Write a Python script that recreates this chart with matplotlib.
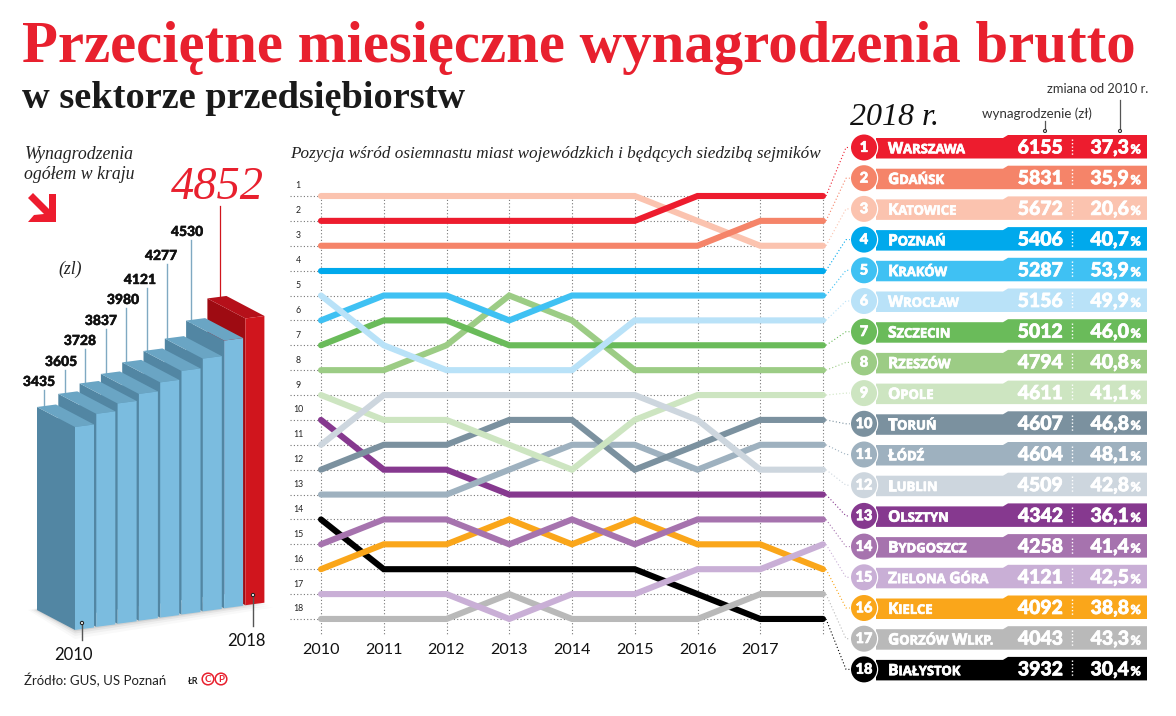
import numpy as np
import matplotlib
matplotlib.use('Agg')
import matplotlib.pyplot as plt
import matplotlib.patheffects as pe
from matplotlib.patches import Polygon, Circle

# dane
lata = [2010, 2011, 2012, 2013, 2014, 2015, 2016, 2017, 2018]
srednia_kraj = [3435, 3605, 3728, 3837, 3980, 4121, 4277, 4530, 4852]

miasta = ['Warszawa', 'Gdańsk', 'Katowice', 'Poznań', 'Kraków', 'Wrocław', 'Szczecin', 'Rzeszów', 'Opole',
          'Toruń', 'Łódź', 'Lublin', 'Olsztyn', 'Bydgoszcz', 'Zielona Góra', 'Kielce', 'Gorzów Wlkp.', 'Białystok']
wynagrodzenie = [6155, 5831, 5672, 5406, 5287, 5156, 5012, 4794, 4611,
                 4607, 4604, 4509, 4342, 4258, 4121, 4092, 4043, 3932]
zmiana = ['37,3', '35,9', '20,6', '40,7', '53,9', '49,9', '46,0', '40,8', '41,1',
          '46,8', '48,1', '42,8', '36,1', '41,4', '42,5', '38,8', '43,3', '30,4']
kolory = ['#ed1c2e', '#f58469', '#fbc3af', '#00a9ec', '#3fc1f3', '#b9e2f8', '#6abb5a', '#9ccc85', '#cde5c1',
          '#7b919f', '#9eb1bf', '#cdd6de', '#86398f', '#a673ae', '#c9afd6', '#faa61a', '#b9b9b9', '#000000']

# pozycja miasta w kolejnych latach
pozycje = {
    'Warszawa': [2, 2, 2, 2, 2, 2, 1, 1, 1],
    'Gdańsk': [3, 3, 3, 3, 3, 3, 3, 2, 2],
    'Katowice': [1, 1, 1, 1, 1, 1, 2, 3, 3],
    'Poznań': [4, 4, 4, 4, 4, 4, 4, 4, 4],
    'Kraków': [6, 5, 5, 6, 5, 5, 5, 5, 5],
    'Wrocław': [5, 7, 8, 8, 8, 6, 6, 6, 6],
    'Szczecin': [7, 6, 6, 7, 7, 7, 7, 7, 7],
    'Rzeszów': [8, 8, 7, 5, 6, 8, 8, 8, 8],
    'Opole': [9, 10, 10, 11, 12, 10, 9, 9, 9],
    'Toruń': [12, 11, 11, 10, 10, 12, 11, 10, 10],
    'Łódź': [13, 13, 13, 12, 11, 11, 12, 11, 11],
    'Lublin': [11, 9, 9, 9, 9, 9, 10, 12, 12],
    'Olsztyn': [10, 12, 12, 13, 13, 13, 13, 13, 13],
    'Bydgoszcz': [15, 14, 14, 15, 14, 15, 14, 14, 14],
    'Zielona Góra': [17, 17, 17, 18, 17, 17, 16, 16, 15],
    'Kielce': [16, 15, 15, 14, 15, 14, 15, 15, 16],
    'Gorzów Wlkp.': [18, 18, 18, 17, 18, 18, 18, 17, 17],
    'Białystok': [14, 16, 16, 16, 16, 16, 17, 18, 18],
}

SZER, WYS = 1176, 716
SERIF = 'Liberation Serif'
SANS = 'Lato'

fig = plt.figure(figsize=(SZER / 100, WYS / 100), dpi=100, facecolor='white')
# os w pikselach obrazka, na niej cala oprawa
ax = fig.add_axes([0, 0, 1, 1])
ax.set_xlim(0, SZER)
ax.set_ylim(WYS, 0)
ax.axis('off')
renderer = fig.canvas.get_renderer()

# tytul
ax.text(22, 62, 'Przeciętne miesięczne wynagrodzenia brutto', family=SERIF, weight='bold',
        fontsize=42.3, color='#e8202e', ha='left', va='baseline')
ax.text(22, 108, 'w sektorze przedsiębiorstw', family=SERIF, weight='bold', fontsize=27.6,
        color='#1a1a1a', ha='left', va='baseline')

# lewy panel - slupki 3d
ax.text(25, 159, 'Wynagrodzenia', family=SERIF, style='italic', fontsize=12.8, color='#222222')
ax.text(24, 179, 'ogółem w kraju', family=SERIF, style='italic', fontsize=12.8, color='#222222')
ax.text(58, 274, '(zl)', family=SERIF, style='italic', fontsize=12.8, color='#222222')
ax.add_patch(Polygon([(28, 198), (33, 193), (49, 209), (49, 194), (56, 194), (56, 222), (28, 222), (34, 215), (44, 214)],
                     facecolor='#ed1c2e', edgecolor='none'))

PX_NA_ZL = 0.0591
krok = 21.3
szer_slupka = 19
glebia_x, glebia_y = 38, 20
x_start = 75
y_podloga = 630
spadek = 3.1

# miejsca opisow nad slupkami 2010-2017
opis_x = [39, 61, 80, 101, 123, 140, 161, 187]
opis_y = [382, 362, 341, 321, 300, 280, 256, 232]
linia_x = [44, 65, 85, 106, 126, 147, 167, 191]

# cien pod slupkami
xl = x_start - glebia_x
xp = x_start + 8 * krok + szer_slupka
for d, a in zip([9, 6, 3.5, 1.5], [0.025, 0.035, 0.05, 0.07]):
    ax.add_patch(Polygon([(xl - d, y_podloga - glebia_y), (x_start, y_podloga + d),
                          (xp + d, y_podloga - 8 * spadek - 3 + d * 0.6), (x_start, y_podloga - 30)],
                         facecolor='black', edgecolor='none', alpha=a, zorder=1))

# od najdalszego do najblizszego
for i in range(len(lata) - 1, -1, -1):
    czerwony = lata[i] == 2018
    front = '#d0151d' if czerwony else '#7bbcdf'
    bok = '#9e0b12' if czerwony else '#5286a3'
    gora_k = '#b5101a' if czerwony else '#6aa5c4'
    x = x_start + i * krok
    dol = y_podloga - i * spadek
    gora = dol - srednia_kraj[i] * PX_NA_ZL
    ax.add_patch(Polygon([(x - glebia_x, gora - glebia_y), (x, gora), (x, dol), (x - glebia_x, dol - glebia_y)],
                         facecolor=bok, edgecolor='none', zorder=2))
    ax.add_patch(Polygon([(x, gora), (x + szer_slupka, gora - 2.5), (x + szer_slupka - glebia_x, gora - 2.5 - glebia_y),
                          (x - glebia_x, gora - glebia_y)], facecolor=gora_k, edgecolor='none', zorder=2))
    ax.add_patch(Polygon([(x, gora), (x + szer_slupka, gora - 2.5), (x + szer_slupka, dol - 2.5), (x, dol)],
                         facecolor=front, edgecolor='none', zorder=2))
    # opis nad slupkiem
    if czerwony:
        ax.plot([x - 25, x - 25], [gora - glebia_y - 1, 206], color='#d0151d', lw=0.9, zorder=1.5)
        ax.text(x - 28, 199, '4852', family=SERIF, style='italic', fontsize=33.5, color='#e8202e', ha='center', va='baseline')
    else:
        ax.plot([linia_x[i], linia_x[i]], [gora - glebia_y + 2, opis_y[i] + 8], color='#7fa9c2', lw=1, zorder=1.5)
        ax.text(opis_x[i], opis_y[i], str(srednia_kraj[i]), family=SANS, weight='black', fontsize=10, color='#111111',
                ha='center', va='center', path_effects=[pe.withStroke(linewidth=0.3, foreground='#111111')])

# znaczniki lat przy slupkach
ax.plot([82, 82], [623, 640], color='#555555', lw=1, zorder=3)
ax.add_patch(Circle((82, 623), 1.6, facecolor='white', edgecolor='#222222', lw=0.8, zorder=4))
ax.plot([253, 253], [595, 626], color='#555555', lw=1, zorder=3)
ax.add_patch(Circle((253, 595), 1.6, facecolor='white', edgecolor='#222222', lw=0.8, zorder=4))
ax.text(73, 655, '2010', family=SANS, fontsize=12, color='#111111', ha='center', va='center')
ax.text(246, 641, '2018', family=SANS, fontsize=12, color='#111111', ha='center', va='center')

# zrodlo
ax.text(24, 680, 'Źródło: GUS, US Poznań', family=SANS, fontsize=9.5, color='#222222', ha='left', va='center')
ax.text(188, 681, 'ŁR', family=SANS, weight='bold', fontsize=6.5, color='#222222', ha='left', va='center')
for xz, lit in zip([208, 221], ['C', 'P']):
    ax.add_patch(Circle((xz, 679), 5.8, facecolor='white', edgecolor='#e8202e', lw=1.1))
    ax.text(xz, 679, lit, family=SANS, weight='bold', fontsize=7, color='#e8202e', ha='center', va='center')

# srodkowy panel - pozycje
ax.text(290, 158, 'Pozycja wśród osiemnastu miast wojewódzkich i będących siedzibą sejmików', family=SERIF,
        style='italic', fontsize=12.3, color='#222222', ha='left', va='baseline')

X0, XKROK = 321, 62.75
Y0, YKROK = 196, 24.88
L, P, G, D = 290, 830, 172, 642
ax2 = fig.add_axes([L / SZER, 1 - D / WYS, (P - L) / SZER, (D - G) / WYS])
ax2.set_xlim(2010 + (L - X0) / XKROK, 2010 + (P - X0) / XKROK)
ax2.set_ylim(1 + (D - Y0) / YKROK, 1 + (G - Y0) / YKROK)
ax2.axis('off')
ax2.patch.set_alpha(0)

dots = (0, (1, 2))
for r in range(1, 19):
    ax2.plot([ax2.get_xlim()[0], lata[-1]], [r, r], color='#777777', lw=0.8, ls=dots, zorder=1)
    ax2.text(2010 - 23 / XKROK, r - 10 / YKROK, str(r), family=SANS, fontsize=6.3, color='#222222', ha='center', va='center')
for rok in lata:
    ax2.plot([rok, rok], [1, 18.65], color='#777777', lw=0.8, ls=dots, zorder=1)
for rok in lata[:-1]:
    ax2.text(rok, 18 + 31 / YKROK, str(rok), family=SANS, fontsize=11.6, color='#111111', ha='center', va='center')

# kolejnosc rysowania jak w oryginale, czarna pod spodem
kolejnosc = [17, 12, 15, 13, 16, 14, 10, 9, 8, 11, 7, 6, 4, 5, 3, 2, 0, 1]
for k in kolejnosc:
    ax2.plot(lata, pozycje[miasta[k]], color=kolory[k], lw=4.4, solid_capstyle='round', solid_joinstyle='miter', zorder=3)

# prawy panel - tabela
ax.text(850, 125, '2018 r.', family=SERIF, style='italic', fontsize=23, color='#111111', ha='left', va='baseline')
ax.text(982, 114, 'wynagrodzenie (zł)', family=SANS, fontsize=9.6, color='#333333', ha='left', va='center')
ax.text(1047, 89, 'zmiana od 2010 r.', family=SANS, fontsize=9.3, color='#333333', ha='left', va='center')
ax.plot([1045, 1045], [121, 130], color='#555555', lw=0.9)
ax.plot([1120, 1120], [100, 130], color='#555555', lw=0.9)
for xk in [1045, 1120]:
    ax.add_patch(Circle((xk, 131), 1.5, facecolor='white', edgecolor='#333333', lw=0.8, zorder=5))

WIERSZ0, WIERSZ = 147.5, 30.7
PAS_L, PAS_P = 876, 1147
gruby = [pe.withStroke(linewidth=0.5, foreground='white')]


def kapitaliki(x, y, nazwa):
    # pierwsza litera wieksza, reszta jak kapitaliki
    for slowo in nazwa.split():
        for tekst, rozm in [(slowo[0], 11.3), (slowo[1:].upper(), 9.4)]:
            t = ax.text(x, y, tekst, family='Open Sans', weight='bold', fontsize=rozm, color='white',
                        ha='left', va='baseline', zorder=6, path_effects=gruby)
            x += t.get_window_extent(renderer).width - 0.2
        x += 4


for i in range(len(miasta)):
    kol = kolory[i]
    yc = WIERSZ0 + i * WIERSZ
    # lacznik z wykresem
    yk = Y0 + i * YKROK
    ax.plot([826, 846, 851], [yk, yc, yc], color=kol, lw=0.8, ls=(0, (1, 2)), zorder=1)
    # pas
    g = yc - 12.5
    d = yc + 11
    ax.add_patch(Polygon([(PAS_L, g + 3), (1003, g + 3), (1008, g), (PAS_P, g), (PAS_P, d), (PAS_L, d)],
                         facecolor=kol, edgecolor='none', zorder=3))
    ax.add_patch(Circle((864, yc), 14.2, facecolor='white', edgecolor='none', zorder=4))
    ax.add_patch(Circle((864, yc), 13, facecolor=kol, edgecolor='none', zorder=5))
    ax.text(864, yc + 0.3, str(i + 1), family=SANS, weight='black', fontsize=10.5, color='white', ha='center', va='center',
            zorder=6, path_effects=gruby)
    ybl = yc + 5.8
    kapitaliki(888, ybl, miasta[i])
    ax.text(1063, yc + 6, str(wynagrodzenie[i]), family=SANS, weight='black', fontsize=14, color='white',
            ha='right', va='baseline', zorder=6, path_effects=gruby)
    ax.plot([1072, 1072], [yc - 9, yc + 8], color='white', lw=1, ls=(0, (1, 1.5)), zorder=6)
    ax.text(1129, yc + 6, zmiana[i], family=SANS, weight='black', fontsize=14, color='white',
            ha='right', va='baseline', zorder=6, path_effects=gruby)
    ax.text(1141, yc + 6, '%', family=SANS, weight='black', fontsize=9, color='white',
            ha='right', va='baseline', zorder=6, path_effects=gruby)

fig.savefig('out.png', dpi=100, facecolor='white')
